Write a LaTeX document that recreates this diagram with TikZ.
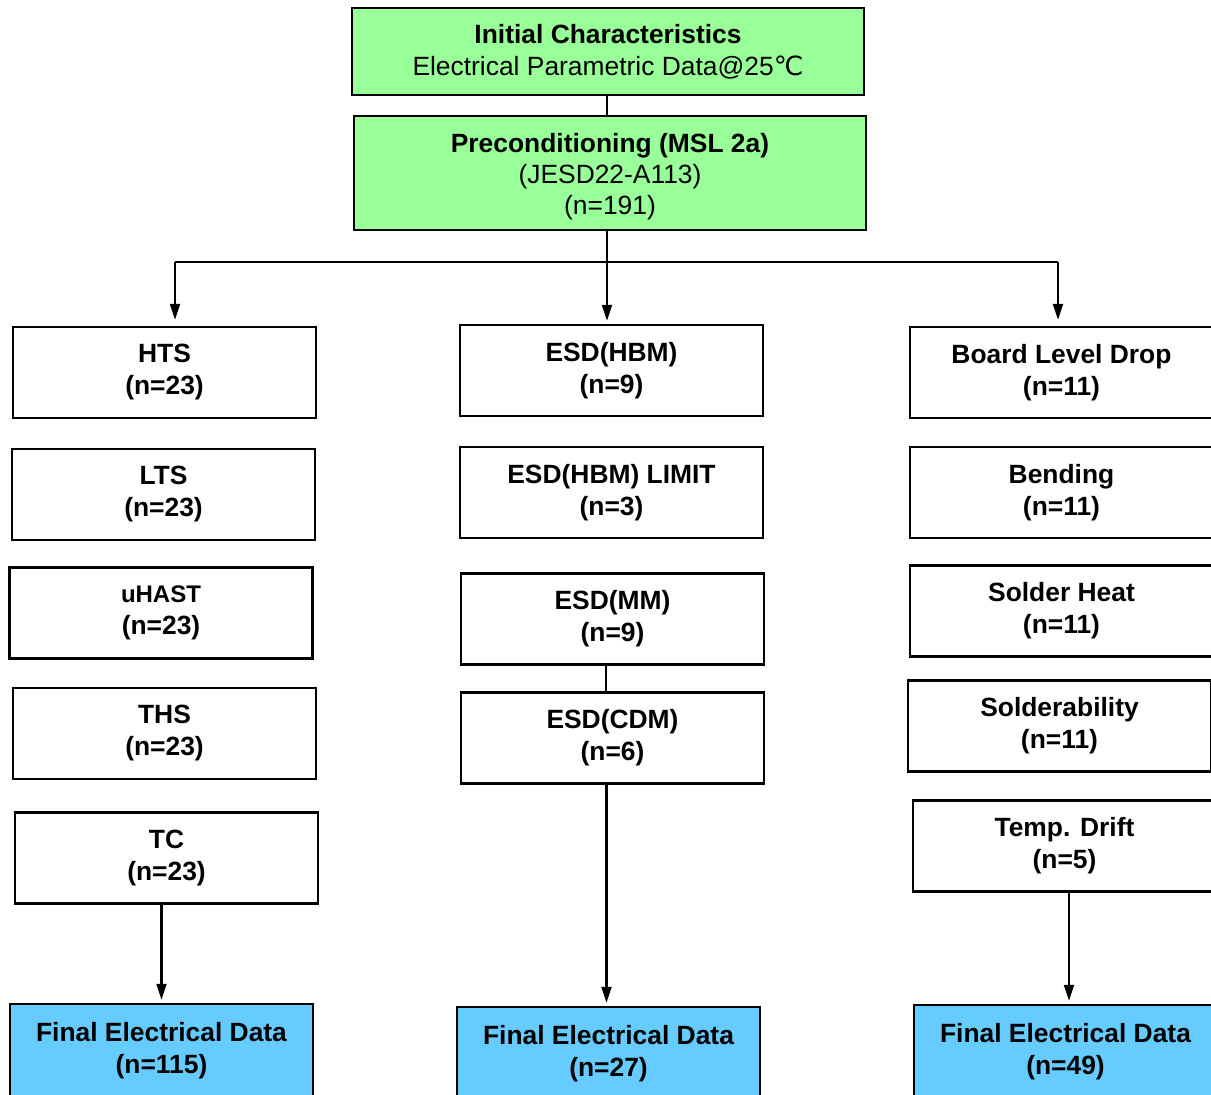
\documentclass[tikz,border=0pt]{standalone}
\usepackage{fontspec}
\setmainfont{Liberation Sans}
\newfontfamily\dejavu{DejaVu Sans}
\usetikzlibrary{arrows.meta}
\definecolor{boxgreen}{HTML}{99FF99}
\definecolor{boxblue}{HTML}{66CCFF}
\begin{document}
\begin{tikzpicture}[x=1pt,y=-1pt,
  box/.style={draw=black, line width=2.5pt, minimum width=303pt, minimum height=91pt,
    inner sep=0pt, align=center, font=\fontsize{26.4}{32}\selectfont\bfseries},
  gbox/.style={box, fill=boxgreen, minimum width=512pt},
  bbox/.style={box, fill=boxblue, minimum height=94pt},
  conn/.style={line width=2.2pt},
  arr/.style={conn, -{Triangle[length=16pt,width=10pt]}, shorten >=3pt}]
\useasboundingbox (0,0) rectangle (1211,1095);
\clip (0,0) rectangle (1211,1095);

% top
\node[gbox, minimum height=87pt] (init) at (608,51.5)
  {Initial Characteristics\\{\mdseries Electrical Parametric Data@25{\dejavu ℃}}};
\node[gbox, minimum height=114pt, font=\fontsize{26.4}{31}\selectfont\bfseries] (pre) at (610,173)
  {\rule{0pt}{26pt}Preconditioning (MSL 2a)\\{\mdseries (JESD22-A113)}\\{\mdseries (n=191)}};

% left column
\node[box] (hts) at (164.5,372.5) {HTS\\(n=23)};
\node[box] (lts) at (163.5,494.5) {LTS\\(n=23)};
\node[box] (uhast) at (161,613) {{\fontsize{24}{32}\selectfont uHAST}\\(n=23)};
\node[box] (ths) at (164.5,733.5) {THS\\(n=23)};
\node[box] (tc) at (166.5,858) {TC\\(n=23)};
\node[bbox] (finL) at (161.5,1051) {Final Electrical Data\\(n=115)};

% middle column
\node[box] (hbm) at (611.5,370.5) {ESD(HBM)\\(n=9)};
\node[box] (hbml) at (611.5,492.5) {ESD(HBM) LIMIT\\(n=3)};
\node[box] (mm) at (612.5,619) {ESD(MM)\\(n=9)};
\node[box] (cdm) at (612.5,738) {ESD(CDM)\\(n=6)};
\node[bbox] (finM) at (608.5,1054) {Final Electrical Data\\(n=27)};

% right column
\node[box] (bld) at (1061.5,372.5) {Board Level Drop\\(n=11)};
\node[box] (bend) at (1061.5,492.5) {Bending\\(n=11)};
\node[box] (sh) at (1061.5,611) {Solder Heat\\(n=11)};
\node[box] (sold) at (1059.5,726) {Solderability\\(n=11)};
\node[box] (td) at (1064.5,846) {Temp. Drift\\(n=5)};
\node[bbox] (finR) at (1065.5,1052) {Final Electrical Data\\(n=49)};

% connectors
\coordinate (bl) at (175,262);
\coordinate (bm) at (607,262);
\coordinate (brt) at (1058,262);
\draw[conn] (init.south -| bm) -- (bm |- pre.north);
\draw[conn] (bl) -- (brt);
\draw[arr] (pre.south -| bm) -- (bm |- hbm.north);
\draw[arr, shorten >=6pt] (bl) -- (bl |- hts.north);
\draw[arr, shorten >=6pt] (brt) -- (brt |- bld.north);
\draw[conn] ([xshift=-6.5pt]mm.south) -- ([xshift=-6.5pt]mm.south |- cdm.north);
\draw[arr] (tc.south -| finL.north) -- (finL.north);
\draw[arr] ([xshift=-6pt]cdm.south) -- ([xshift=-6pt]cdm.south |- finM.north);
\draw[arr] ([xshift=4.5pt]td.south) -- ([xshift=4.5pt]td.south |- finR.north);
\end{tikzpicture}
\end{document}
